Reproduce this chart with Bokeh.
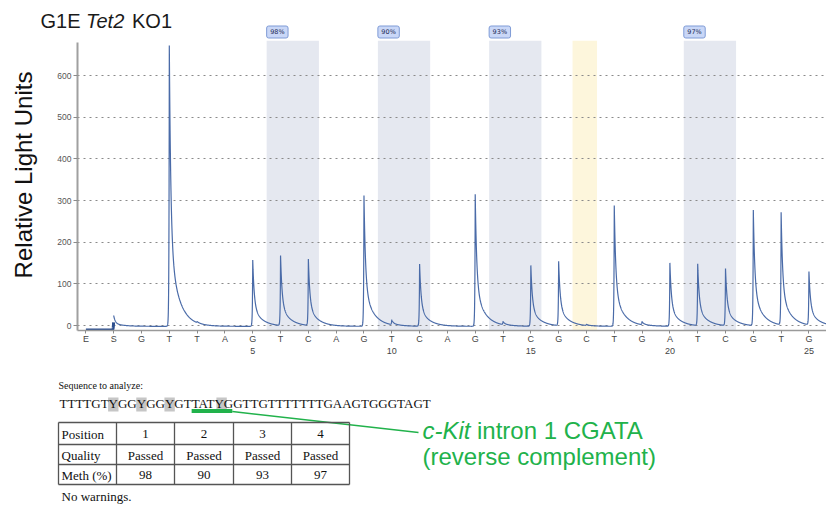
import numpy as np
from bokeh.plotting import figure
from bokeh.models import ColumnDataSource, FixedTicker, LinearAxis, Range1d
from bokeh.layouts import column, row
from bokeh.embed import file_html
from bokeh.resources import INLINE
from bokeh.core.properties import value

# ---------------------------------------------------------------- data
# dispensation order: E (enzyme), S (substrate), then nucleotides 1..25
dispensation = ["E", "S", "G", "T", "T", "A", "G", "T", "C", "A", "G", "T", "C", "A",
                "G", "T", "C", "G", "C", "T", "G", "A", "T", "C", "G", "T", "G"]
disp_pos = list(range(-1, 26))
# peak height (relative light units) for each dispensation
peak_height = [0, 26, 0, 674, 3, 0, 159, 168, 159, 0, 314, 12, 149, 0, 317, 8,
               146, 154, 3, 290, 8, 152, 148, 137, 277, 270, 128]

# CpG positions: (first, last) dispensation of each T/C pair
cpg_first = [6, 10, 14, 21]
cpg_last = [7, 11, 15, 22]
meth_pct = [98, 90, 93, 97]
# bisulfite conversion control dispensation
control_pos = [17]

y_ticks = [0, 100, 200, 300, 400, 500, 600]
number_ticks = [5, 10, 15, 20, 25]

sequence = "TTTTGTYGGYGGYGTTATYGGTTGTTTTTTTGAAGTGGGTAGT"
table_rows = ["Position", "Quality", "Meth (%)"]
table_positions = ["1", "2", "3", "4"]
table_quality = ["Passed", "Passed", "Passed", "Passed"]

# ---------------------------------------------------------------- layout constants
W = 826
LABEL_W = 40                   # strip holding the rotated y-axis title
SX = 27.81                     # px per dispensation
X_START = 1 - (141 - 77) / SX
X_END = 1 + (W - 141) / SX
TOP_H = 40                     # strip holding the title and badges
Y_START, Y_END = -12.0, (325 - TOP_H) * 2.4

SANS = "Liberation Sans"
SERIF = "Liberation Serif"
TRACE = "#4a6ba8"


def strip(width, height, x_range, y_range):
    f = figure(width=width, height=height, x_range=x_range, y_range=y_range,
               output_backend="svg", toolbar_location=None, min_border=0,
               x_axis_type=None, y_axis_type=None, outline_line_color=None)
    f.frame_align = False
    f.grid.visible = False
    return f


# ---------------------------------------------------------------- title strip
# same horizontal scale as the pyrogram, so badges sit over their windows
p0 = strip(W, TOP_H, Range1d(X_START - 77 / SX, X_END), Range1d(TOP_H, 0))
x_title = X_START - 77 / SX
p0.text(x=[x_title + 40 / SX, x_title + 131.5 / SX], y=[20, 20], text=["G1E", "KO1"],
        text_font=value(SANS), text_font_size="20px", text_color="#1a1a1a",
        text_baseline="middle")
p0.text(x=[x_title + 85.6 / SX], y=[20], text=["Tet2"], text_font=value(SANS),
        text_font_size="20px", text_font_style="italic", text_color="#1a1a1a",
        text_baseline="middle")

badge = ColumnDataSource(dict(
    left=[f - 0.5 for f in cpg_first],
    right=[f - 0.5 + 0.77 for f in cpg_first],
    mid=[f - 0.5 + 0.385 for f in cpg_first],
    label=[f"{m}%" for m in meth_pct]))
p0.quad(left="left", right="right", bottom=37.5, top=25.5, source=badge,
        fill_color="#c9d7f7", line_color="#7f9bd6", line_width=1, border_radius=2)
p0.text(x="mid", y=31.5, text="label", source=badge, text_font=value("DejaVu Sans"),
        text_font_size="6.5px", text_color="#1d2b55", text_align="center",
        text_baseline="middle")

# ---------------------------------------------------------------- y-axis title strip
pl = strip(LABEL_W, 365 - TOP_H, Range1d(0, LABEL_W), Range1d(365, TOP_H))
pl.text(x=[23], y=[174.5], text=["Relative Light Units"], angle=np.pi / 2,
        text_font=value(SANS), text_font_size="24px", text_color="#111111",
        text_align="center", text_baseline="middle")

# ---------------------------------------------------------------- pyrogram
p1 = figure(width=W - LABEL_W, height=365 - TOP_H, x_range=Range1d(X_START, X_END),
            y_range=Range1d(Y_START, Y_END), output_backend="svg",
            toolbar_location=None, min_border_left=77 - LABEL_W, min_border_right=0,
            min_border_top=0, min_border_bottom=35, outline_line_color=None)
p1.frame_align = False

# shaded analysis windows
p1.quad(left=[f - 0.5 for f in cpg_first], right=[l + 0.38 for l in cpg_last],
        bottom=Y_START, top=Y_END, fill_color="#e5e8f0", line_color=None,
        level="image")
p1.quad(left=[c - 0.5 for c in control_pos], right=[c + 0.38 for c in control_pos],
        bottom=Y_START, top=Y_END, fill_color="#fdf6dc", line_color=None,
        level="image")

# light-unit trace built from the peak heights
xs = np.arange(-1.0, X_END + 0.002, 0.004)
ys = np.where(xs < 0, -11.0, -2.0)
for pos, h in zip(disp_pos, peak_height):
    if pos < 0 or h == 0:
        continue
    t = xs - pos
    rise = np.where(t < 0, np.exp(t / 0.012), 0.0)
    decay = np.where(t >= 0, 0.7 * np.exp(-t / 0.055) + 0.3 * np.exp(-t / 0.32), 0.0)
    ys = ys + h * (rise + decay)
pre = xs <= 0
p1.line(xs[pre], ys[pre], line_color="#2d4f8f", line_width=3)
p1.line(xs[~pre], ys[~pre], line_color=TRACE, line_width=1.2)

# grid and axes
p1.xgrid.visible = False
p1.ygrid.ticker = FixedTicker(ticks=y_ticks)
p1.ygrid.grid_line_color = "#8a8a8a"
p1.ygrid.grid_line_dash = "2 4"
p1.ygrid.grid_line_width = 1.2

ya = p1.yaxis[0]
ya.ticker = FixedTicker(ticks=y_ticks)
ya.bounds = (Y_START, Y_END - 5)
ya.axis_line_color = "#a0a0a0"
ya.axis_line_width = 2
ya.major_tick_line_color = "#8a8a8a"
ya.major_tick_out = 4
ya.major_tick_in = 0
ya.minor_tick_line_color = None
ya.major_label_standoff = 2
ya.major_label_text_font = SANS
ya.major_label_text_font_size = "8.5px"
ya.major_label_text_color = "#555555"

xa = p1.xaxis[0]
xa.ticker = FixedTicker(ticks=disp_pos)
xa.major_label_overrides = {p: d for p, d in zip(disp_pos, dispensation)}
xa.axis_line_color = "#9a9a9a"
xa.axis_line_width = 1.5
xa.major_tick_line_color = "#8a8a8a"
xa.major_tick_out = 3
xa.major_tick_in = 0
xa.minor_tick_line_color = None
xa.major_label_standoff = 0
xa.major_label_text_font = SANS
xa.major_label_text_font_size = "9px"
xa.major_label_text_color = "#444444"

xa2 = LinearAxis(ticker=FixedTicker(ticks=number_ticks), axis_line_color=None,
                 major_tick_line_color=None, minor_tick_line_color=None,
                 major_tick_out=0, major_label_standoff=1, major_label_text_font=SANS,
                 major_label_text_font_size="9px", major_label_text_color="#444444")
p1.add_layout(xa2, "below")

# ---------------------------------------------------------------- results panel
p2 = strip(W, 143, Range1d(0, W), Range1d(508, 365))

p2.text(x=[58], y=[384.5], text=["Sequence to analyze:"], text_font=value(SERIF),
        text_font_size="10px", text_color="#111111", text_baseline="middle")

# character advances (Times metrics) to locate highlighted bases
adv = {"T": 0.611, "G": 0.722, "A": 0.722, "C": 0.667, "Y": 0.722}
FS = 13
starts = [59.0]
for ch in sequence:
    starts.append(starts[-1] + adv[ch] * FS)
ys_idx = [i for i, ch in enumerate(sequence) if ch == "Y"]
p2.quad(left=[starts[i] - 0.5 for i in ys_idx], right=[starts[i + 1] + 0.5 for i in ys_idx],
        top=397, bottom=411, fill_color="#c6c6c6", line_color=None)
p2.text(x=[59], y=[403], text=[sequence], text_font=value(SERIF), text_font_size=f"{FS}px",
        text_color="#111111", text_baseline="middle")

# green underline and leader to the annotation
GREEN = "#21b24b"
u0 = starts[15]
u1 = starts[19] + 6
p2.line([u0, u1], [410.5, 410.5], line_color=GREEN, line_width=4)
p2.line([u1, 418], [411, 432], line_color=GREEN, line_width=1.5)
p2.text(x=[422], y=[430], text=["c-Kit"], text_font=value(SANS), text_font_size="24px",
        text_font_style="italic", text_color=GREEN, text_baseline="middle")
p2.text(x=[476.5], y=[430], text=["intron 1 CGATA"], text_font=value(SANS),
        text_font_size="24px", text_color=GREEN, text_baseline="middle")
p2.text(x=[422], y=[456], text=["(reverse complement)"], text_font=value(SANS),
        text_font_size="24px", text_color=GREEN, text_baseline="middle")

# results table
col_edges = [58, 116, 174, 233, 291, 349]
row_edges = [422, 444, 464, 484]
xs_lines = [[c, c] for c in col_edges] + [[col_edges[0], col_edges[-1]] for _ in row_edges]
ys_lines = [[row_edges[0], row_edges[-1]] for _ in col_edges] + [[r, r] for r in row_edges]
p2.multi_line(xs_lines, ys_lines, line_color="#555555", line_width=1.3)

row_mid = [(a + b) / 2 + 0.5 for a, b in zip(row_edges[:-1], row_edges[1:])]
col_mid = [(a + b) / 2 for a, b in zip(col_edges[1:-1], col_edges[2:])]
p2.text(x=[61] * 3, y=row_mid, text=table_rows, text_font=value(SERIF),
        text_font_size="13px", text_color="#111111", text_baseline="middle")
cells_x, cells_y, cells_t = [], [], []
for row_vals, ym in zip([table_positions, table_quality, [str(m) for m in meth_pct]], row_mid):
    for xm, v in zip(col_mid, row_vals):
        cells_x.append(xm)
        cells_y.append(ym)
        cells_t.append(v)
p2.text(x=cells_x, y=cells_y, text=cells_t, text_font=value(SERIF), text_font_size="13px",
        text_color="#111111", text_align="center", text_baseline="middle")

p2.text(x=[61], y=[496], text=["No warnings."], text_font=value(SERIF),
        text_font_size="13px", text_color="#111111", text_baseline="middle")

layout = column(p0, row(pl, p1, spacing=0), p2, spacing=0)
open("out.html", "w").write(file_html(layout, INLINE))
